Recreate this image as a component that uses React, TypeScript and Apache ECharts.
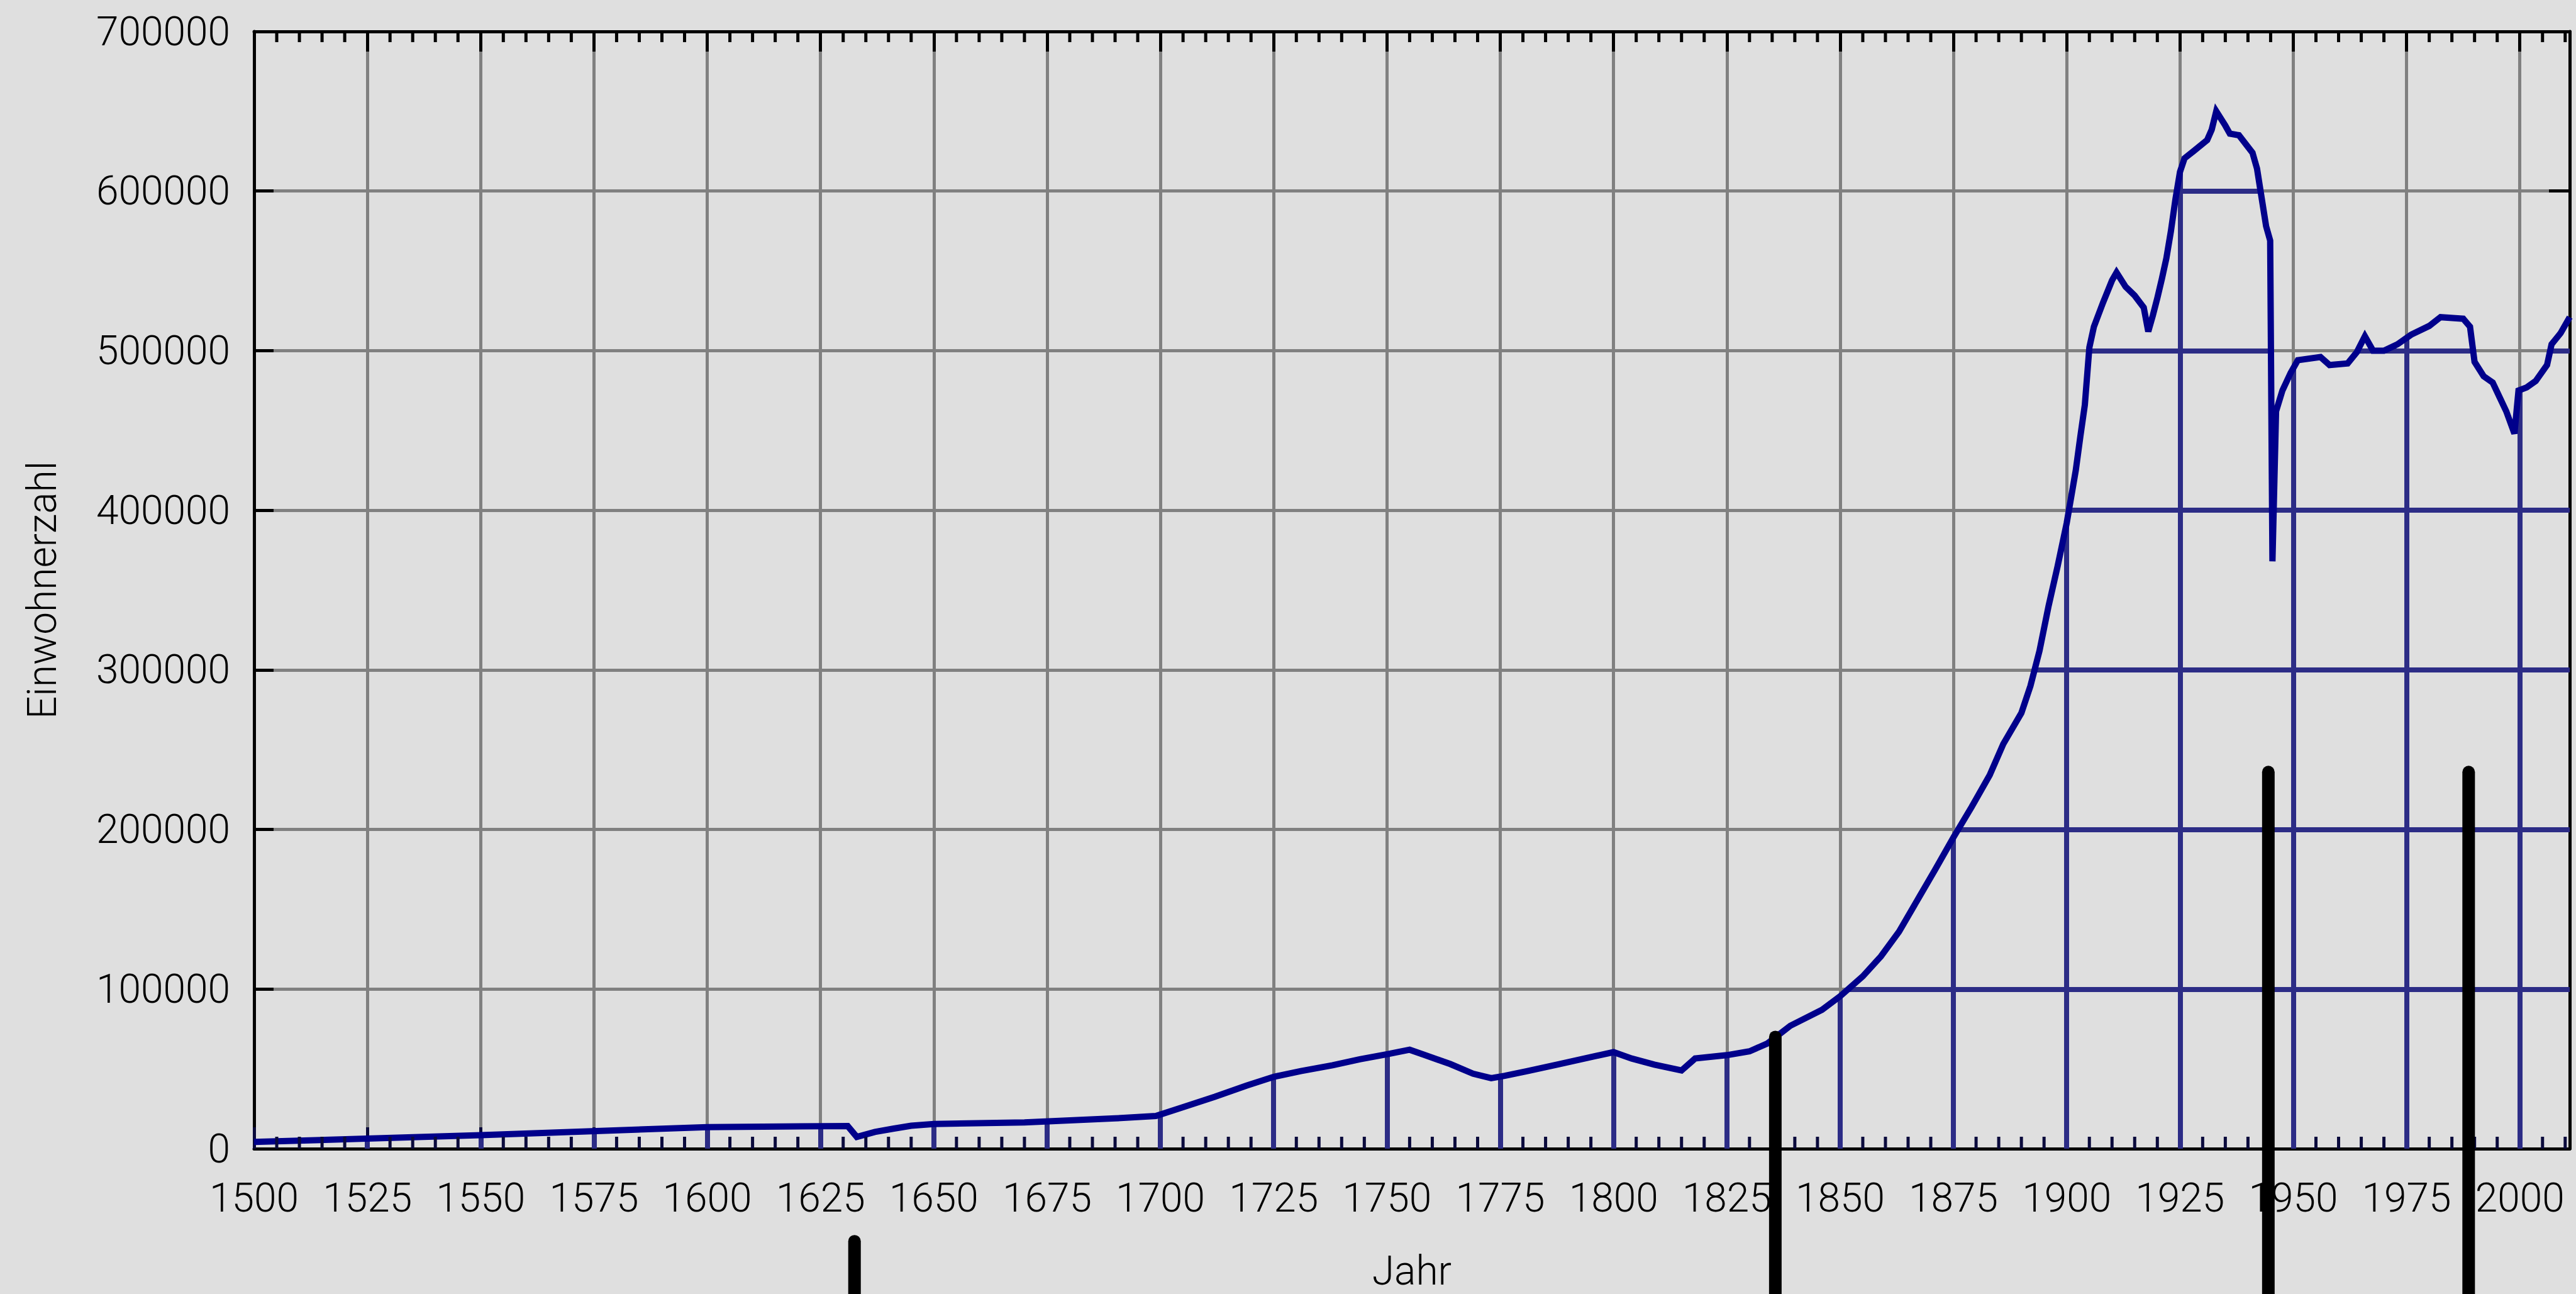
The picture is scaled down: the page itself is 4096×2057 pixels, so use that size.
import React, { useEffect, useRef } from "react";
import * as echarts from "echarts";

// Einwohnerzahl (population) by year
const years = [
  1500, 1550, 1600, 1631, 1633, 1637, 1641, 1645, 1650, 1670, 1690, 1699,
  1705, 1712, 1719, 1725, 1731, 1738, 1744, 1750, 1755, 1758, 1764, 1769,
  1773, 1776, 1781, 1788, 1795, 1800, 1804, 1809, 1815, 1818, 1825, 1830,
  1834, 1839, 1846, 1850, 1855, 1859, 1863, 1867, 1871, 1875, 1879, 1883,
  1886, 1890, 1892, 1894, 1896, 1898, 1900, 1902, 1903, 1904, 1905, 1906,
  1908, 1910, 1911, 1913, 1915, 1917, 1918, 1919, 1920, 1921, 1922, 1923,
  1924, 1925, 1926, 1928, 1931, 1932, 1933, 1935, 1936, 1938, 1941, 1942,
  1943, 1944, 1944.9, 1945.4, 1946.2, 1947.6, 1949.4, 1951, 1956, 1958, 1962,
  1964, 1965.8, 1967.6, 1970, 1973, 1976, 1980, 1982.5, 1987.5, 1989, 1990,
  1992, 1994, 1995.5, 1997, 1998.8, 1999.7, 2001.5, 2003.5, 2006, 2007, 2009,
  2011,
];
const population = [
  4200, 8500, 13500, 14200, 7400, 10500, 12500, 14400, 15500, 16500, 19000, 20500,
  26000, 32500, 39500, 45000, 48600, 52300, 56000, 59200, 62000, 59000, 53000, 47000,
  44200, 45700, 48600, 53000, 57400, 60500, 56500, 52700, 49000, 56500, 58600, 61000,
  66000, 77000, 87000, 95500, 108000, 120500, 136000, 155500, 175000, 195000, 214000, 234000,
  253500, 273000, 290000, 312000, 340000, 365000, 392000, 425000, 446000, 466000, 502000, 515000,
  530000, 544000, 549000, 540000, 534500, 527000, 512000, 522000, 533000, 545000, 558000, 575000,
  595000, 612000, 620500, 625000, 632000, 638500, 650000, 641000, 636000, 635000, 624000, 614000,
  596000, 578000, 569000, 368000, 462000, 475000, 486000, 494000, 496000, 491000, 492000,
  499000, 509000, 500000, 500000, 504000, 510000, 515500, 521000, 520000, 515000, 493000,
  484000, 480000, 471000, 462000, 448000, 475000, 477000, 481000, 491000, 504000, 511000,
  521000,
];

// thick black marker bars (year, upper end), extending below the plot
const markerYears = [1632.5, 1835.7, 1944.5, 1988.7];
const markerTops = [-58000, 70000, 236000, 236000];
const markerBottom = -130000;

const X_MIN = 1500;
const X_MAX = 2011;
const X_STEP = 25;
const Y_MIN = 0;
const Y_MAX = 700000;
const Y_STEP = 100000;

const minorTickYears: number[] = [];
for (let y = X_MIN + 5; y < X_MAX; y += 5) if (y % X_STEP !== 0) minorTickYears.push(y);

function valueAt(x: number): number {
  for (let i = 0; i < years.length - 1; i++) {
    if (x >= years[i] && x <= years[i + 1]) {
      const t = (x - years[i]) / (years[i + 1] - years[i]);
      return population[i] + t * (population[i + 1] - population[i]);
    }
  }
  return population[population.length - 1];
}

// grid segments lying under the curve (drawn bluish in the reference)
function underCurveSegments() {
  const segs: number[][][] = [];
  for (let t = X_MIN + X_STEP; t <= 2000; t += X_STEP) {
    segs.push([[t, 0], [t, valueAt(t)]]);
  }
  const n = years.length;
  for (let L = Y_STEP; L < Y_MAX; L += Y_STEP) {
    let start: number | null = population[0] > L ? years[0] : null;
    for (let i = 0; i < n - 1; i++) {
      const y0 = population[i];
      const y1 = population[i + 1];
      if ((y0 <= L) !== (y1 <= L)) {
        const xc = years[i] + ((L - y0) / (y1 - y0)) * (years[i + 1] - years[i]);
        if (y1 > L) start = xc;
        else if (start !== null) {
          segs.push([[start, L], [xc, L]]);
          start = null;
        }
      }
    }
    if (start !== null) segs.push([[start, L], [years[n - 1], L]]);
  }
  return segs;
}

const FONT = { fontFamily: "Roboto", fontWeight: 300 as any, fontSize: 64, color: "#000" };

export default function App() {
  const ref = useRef<HTMLDivElement>(null);
  useEffect(() => {
    if (!ref.current) return;
    const chart = echarts.init(ref.current, null, { renderer: "svg" });
    const blueSegs = underCurveSegments();
    const option: any = {
      animation: false,
      backgroundColor: "#dfdfdf",
      grid: { left: 404, right: 10, top: 50, bottom: 229, containLabel: false },
      xAxis: [
        {
          type: "value",
          min: X_MIN,
          max: X_MAX,
          interval: X_STEP,
          position: "bottom",
          name: "Jahr",
          nameLocation: "middle",
          nameGap: 162,
          nameTextStyle: { ...FONT },
          axisLine: { show: true, onZero: false, lineStyle: { color: "#000", width: 5 } },
          axisTick: { show: true, inside: true, length: 34, lineStyle: { color: "#0a0a3c", width: 5 } },
          axisLabel: {
            show: true,
            margin: 46,
            showMaxLabel: false,
            formatter: (v: number) => String(v),
            ...FONT,
          },
          splitLine: { show: true, lineStyle: { color: "#808080", width: 5 } },
          minorTick: { show: false },
        },
        {
          type: "value",
          min: X_MIN,
          max: X_MAX,
          interval: X_STEP,
          position: "top",
          axisLine: { show: true, onZero: false, lineStyle: { color: "#000", width: 5 } },
          axisTick: { show: true, inside: true, length: 32, lineStyle: { color: "#000", width: 5 } },
          axisLabel: { show: false },
          splitLine: { show: false },
        },
      ],
      yAxis: [
        {
          type: "value",
          min: Y_MIN,
          max: Y_MAX,
          interval: Y_STEP,
          position: "left",
          name: "Einwohnerzahl",
          nameLocation: "middle",
          nameGap: 305,
          nameTextStyle: { ...FONT },
          axisLine: { show: true, onZero: false, lineStyle: { color: "#000", width: 5 } },
          axisTick: { show: true, inside: true, length: 31, lineStyle: { color: "#000", width: 5 } },
          axisLabel: { show: true, margin: 38, formatter: (v: number) => String(v), ...FONT },
          splitLine: { show: true, lineStyle: { color: "#808080", width: 5 } },
        },
        {
          type: "value",
          min: Y_MIN,
          max: Y_MAX,
          interval: Y_STEP,
          position: "right",
          axisLine: { show: true, onZero: false, lineStyle: { color: "#000", width: 5 } },
          axisTick: { show: true, inside: true, length: 33, lineStyle: { color: "#000", width: 5 } },
          axisLabel: { show: false },
          splitLine: { show: false },
        },
      ],
      series: [
        {
          type: "lines",
          coordinateSystem: "cartesian2d",
          polyline: false,
          silent: true,
          z: 2,
          lineStyle: { color: "#2c2c86", width: 8, opacity: 1 },
          data: blueSegs.map((c) => ({ coords: c })),
        },
        {
          type: "line",
          data: years.map((y, i) => [y, population[i]]),
          showSymbol: false,
          symbol: "none",
          z: 3,
          lineStyle: { color: "#00008b", width: 10, join: "miter" },
          silent: true,
        },
        {
          type: "custom",
          coordinateSystem: "cartesian2d",
          silent: true,
          z: 4,
          data: minorTickYears.map((y) => [y, 0]),
          encode: { x: 0, y: 1 },
          renderItem: (params: any, api: any) => {
            const x = api.value(0);
            const b = api.coord([x, Y_MIN]);
            const t = api.coord([x, Y_MAX]);
            return {
              type: "group",
              children: [
                { type: "line", shape: { x1: b[0], y1: b[1], x2: b[0], y2: b[1] - 19 }, style: { stroke: "#0a0a3c", lineWidth: 5 } },
                { type: "line", shape: { x1: t[0], y1: t[1], x2: t[0], y2: t[1] + 17 }, style: { stroke: "#000", lineWidth: 5 } },
              ],
            };
          },
        },
        {
          type: "custom",
          coordinateSystem: "cartesian2d",
          silent: true,
          clip: false,
          z: 6,
          data: markerYears.map((y, i) => [y, markerTops[i]]),
          encode: { x: 0, y: 1 },
          renderItem: (params: any, api: any) => {
            const x = api.value(0);
            const top = api.coord([x, api.value(1)]);
            const bot = api.coord([x, markerBottom]);
            return {
              type: "line",
              shape: { x1: top[0], y1: top[1], x2: bot[0], y2: bot[1] },
              style: { stroke: "#000", lineWidth: 20, lineCap: "round" },
            };
          },
        },
      ],
    };
    chart.setOption(option);
    return () => chart.dispose();
  }, []);
  return (
    <div
      ref={ref}
      style={{ position: "fixed", left: 0, top: 0, width: 4096, height: 2057, background: "#dfdfdf" }}
    />
  );
}
